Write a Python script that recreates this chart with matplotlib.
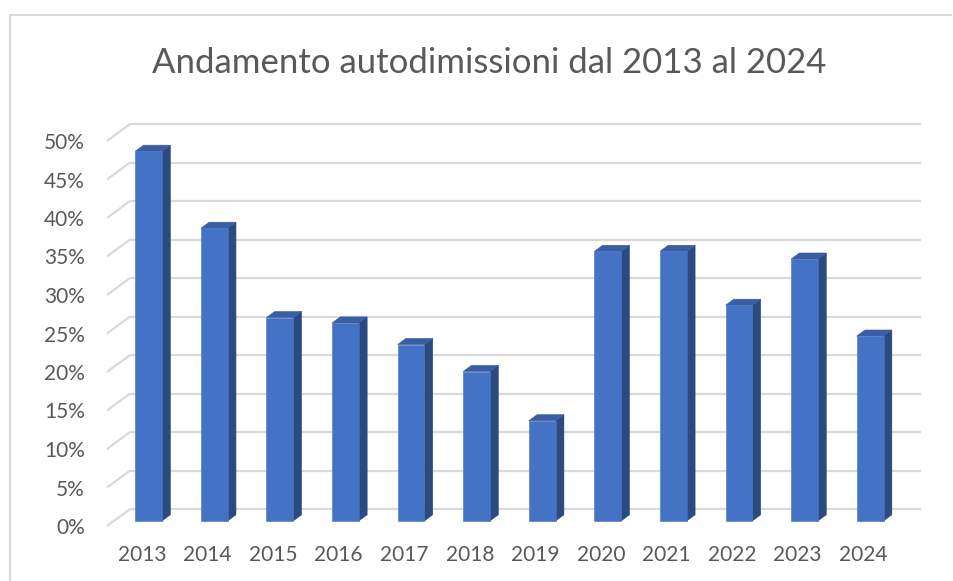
import matplotlib
matplotlib.use("Agg")
import matplotlib.pyplot as plt
from matplotlib.patches import Polygon
import numpy as np

# ---- data ----
years = ["2013", "2014", "2015", "2016", "2017", "2018",
         "2019", "2020", "2021", "2022", "2023", "2024"]
values = [48.0, 38.0, 26.4, 25.7, 22.9, 19.4, 13.0, 35.0, 35.0, 28.0, 34.0, 24.0]
yticks = [0, 5, 10, 15, 20, 25, 30, 35, 40, 45, 50]
ytick_labels = [f"{v}%" for v in yticks]
title = "Andamento autodimissioni dal 2013 al 2024"

# ---- style ----
FONT = "Lato"
TXT = "#595959"
GRID = "#d9d9d9"
FRONT = "#4472C4"
SIDE = "#2B4A80"
TOP = "#3A5DA3"

W, H = 954, 581
fig = plt.figure(figsize=(W / 100, H / 100), dpi=100)
fig.patch.set_facecolor("white")

# chart frame (light border)
frame = fig.add_axes([0, 0, 1, 1])
frame.set_xlim(0, W)
frame.set_ylim(H, 0)
frame.axis("off")
frame.plot([10, 10, 952], [H + 5, 15, 15], color=GRID, lw=1.5, solid_capstyle="butt")

# front plane of the plot area
left_px, right_px, y0_px, y50_px = 107, 898, 526, 141
ax = fig.add_axes([left_px / W, 1 - y0_px / H, (right_px - left_px) / W, (y0_px - y50_px) / H])
xlo, xhi = -0.53, len(years) - 1 + 0.53
ax.set_xlim(xlo, xhi)
ax.set_ylim(0, 50)
for s in ax.spines.values():
    s.set_visible(False)
ax.set_facecolor("none")

# depth vector (data units) from front plane to back wall
px_x = (right_px - left_px) / (xhi - xlo)
px_y = (y0_px - y50_px) / 50
Dx, Dy = 23 / px_x, 17 / px_y

# back wall gridlines + side wall slanted lines
for v in yticks:
    ax.plot([xlo + Dx, xhi + Dx], [v + Dy, v + Dy], color=GRID, lw=1.6,
            clip_on=False, zorder=1, solid_capstyle="butt")
    ax.plot([xlo, xlo + Dx], [v, v + Dy], color=GRID, lw=1.6,
            clip_on=False, zorder=1, solid_capstyle="butt")

# bars (pseudo-3D)
x = np.arange(len(years))
f, d, w = 0.30, 0.36, 0.41
bx = x + f * Dx
by = f * Dy
ax.bar(bx, values, width=w, bottom=by, color=FRONT, edgecolor=FRONT, linewidth=0.4,
       zorder=3, clip_on=False)
for xi, v in zip(bx, values):
    xl, xr = xi - w / 2, xi + w / 2
    top = v + by
    side = Polygon([(xr, by), (xr + d * Dx, by + d * Dy), (xr + d * Dx, top + d * Dy), (xr, top)],
                   closed=True, facecolor=SIDE, edgecolor=SIDE, linewidth=0.4, zorder=2, clip_on=False)
    topf = Polygon([(xl, top), (xr, top), (xr + d * Dx, top + d * Dy), (xl + d * Dx, top + d * Dy)],
                   closed=True, facecolor=TOP, edgecolor=TOP, linewidth=0.4, zorder=2, clip_on=False)
    ax.add_patch(side)
    ax.add_patch(topf)

# ticks
ax.set_yticks(yticks)
ax.set_yticklabels(ytick_labels, fontfamily=FONT, fontsize=15, color=TXT)
ax.set_xticks(x)
ax.set_xticklabels(years, fontfamily=FONT, fontsize=15, color=TXT)
ax.tick_params(axis="y", length=0, pad=16)
ax.tick_params(axis="x", length=0, pad=14)

fig.text(489 / W, 1 - 63 / H, title, ha="center", va="center",
         fontfamily=FONT, fontsize=25, color=TXT)

fig.savefig("out.png", dpi=100, facecolor="white")
